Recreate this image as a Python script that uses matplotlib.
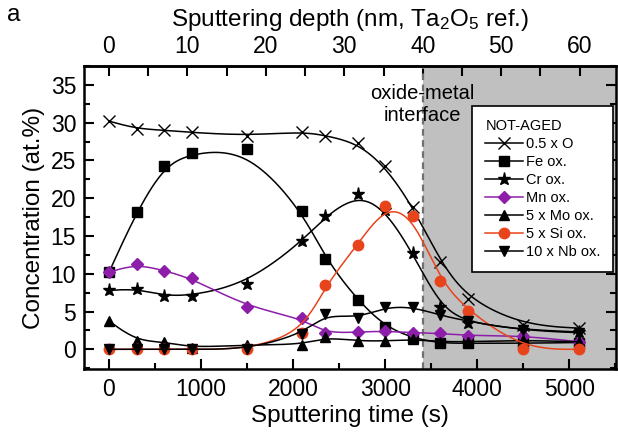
import numpy as np
import matplotlib
matplotlib.use("Agg")
import matplotlib.pyplot as plt
from matplotlib.ticker import MultipleLocator, FixedLocator

plt.rcParams['font.family'] = ['Liberation Sans', 'DejaVu Sans']
plt.rcParams['mathtext.default'] = 'regular'

# ---------------- data ----------------
time_s = [0, 300, 600, 900, 1500, 2100, 2350, 2700, 3000, 3300, 3600, 3900, 4500, 5100]
o_half = [30.2, 29.2, 29.0, 28.7, 28.3, 28.8, 28.3, 27.3, 24.2, 18.9, 11.6, 6.6, 3.2, 2.8]
fe_ox = [10.2, 18.2, 24.3, 26.0, 26.5, 18.3, 12.0, 6.5, 3.0, 1.5, 0.8, 0.8, 0.8, 0.9]
cr_ox = [7.8, 8.0, 7.1, 7.1, 8.7, 14.3, 17.6, 20.5, 18.5, 12.7, 5.6, 3.5, 2.6, 2.3]
mn_ox = [10.2, 11.3, 10.4, 9.4, 5.6, 4.1, 2.1, 2.3, 2.4, 2.2, 2.1, 1.8, 1.8, 1.0]
mo_ox5 = [3.75, 1.1, 1.0, 0.2, 0.6, 0.6, 1.6, 1.1, 1.1, 1.3, 1.0, 1.0, 1.2, 1.0]
si_ox5 = [0.0, 0.0, 0.0, 0.0, 0.0, 2.2, 8.5, 13.8, 19.0, 17.7, 9.0, 5.1, 0.0, 0.0]
nb_ox10 = [0.0, 0.0, 0.0, 0.0, 0.0, 2.0, 4.7, 4.1, 5.6, 5.6, 4.5, 3.7, 2.5, 2.2]

labels = ['0.5 x O', 'Fe ox.', 'Cr ox.', 'Mn ox.', '5 x Mo ox.', '5 x Si ox.', '10 x Nb ox.']
depth_ticks = [0, 10, 20, 30, 40, 50, 60]
SEC_PER_NM = 85.2          # Ta2O5 reference sputter rate (s per nm)
INTERFACE_NM = 40          # oxide / metal interface depth


def bspline(x, y, n=60):
    """Uniform cubic B-spline using data points as control points (clamped ends)."""
    P = np.column_stack([x, y]).astype(float)
    P = np.vstack([P[0], P[0], P, P[-1], P[-1]])
    t = np.linspace(0, 1, n)
    b0 = (1 - t) ** 3 / 6
    b1 = (3 * t ** 3 - 6 * t ** 2 + 4) / 6
    b2 = (-3 * t ** 3 + 3 * t ** 2 + 3 * t + 1) / 6
    b3 = t ** 3 / 6
    out = []
    for i in range(len(P) - 3):
        seg = (b0[:, None] * P[i] + b1[:, None] * P[i + 1] +
               b2[:, None] * P[i + 2] + b3[:, None] * P[i + 3])
        out.append(seg)
    out = np.vstack(out)
    return out[:, 0], out[:, 1]


fig = plt.figure(figsize=(6.18, 4.38), dpi=100)
ax = fig.add_axes([0.1367, 0.1568, 0.8596, 0.6925])

xlim = (-266, 5504)
ax.set_xlim(*xlim)
ax.set_ylim(-2.65, 37.5)

t_int = INTERFACE_NM * SEC_PER_NM
ax.axvspan(t_int, xlim[1], color='#c0c0c0', zorder=0, lw=0)
ax.axvline(t_int, color='#707070', ls=(0, (3, 2)), lw=1.6, zorder=1)

PURPLE = '#8c1eaa'
ORANGE = '#e8441c'
styles = [
    dict(color='black', marker='x', ms=8, mew=1.0, mfc='none'),
    dict(color='black', marker='s', ms=6.5),
    dict(color='black', marker='*', ms=9.5),
    dict(color=PURPLE, marker='D', ms=6.5),
    dict(color='black', marker='^', ms=7.5),
    dict(color=ORANGE, marker='o', ms=7.5),
    dict(color='black', marker='v', ms=7.5),
]
series = [o_half, fe_ox, cr_ox, mn_ox, mo_ox5, si_ox5, nb_ox10]

handles = []
for i, (vals, st, lab) in enumerate(zip(series, styles, labels)):
    xs, ys = bspline(time_s, vals)
    ax.plot(xs, ys, color=st['color'], lw=1.1, zorder=2 + i)
    ax.plot(time_s, vals, ls='none', zorder=2 + i, **st)
    h, = ax.plot([], [], lw=1.1, label=lab, **st)
    handles.append(h)

ax.text(t_int, 32.4, 'oxide-metal\ninterface', ha='center', va='center',
        fontsize=14.5, linespacing=1.15, zorder=20)

leg = ax.legend(handles=handles, title='NOT-AGED', loc='upper right',
                bbox_to_anchor=(0.995, 0.868), borderaxespad=0, fontsize=10.5,
                title_fontsize=10.5, frameon=True, fancybox=False, framealpha=1,
                edgecolor='black', handlelength=2.6, handletextpad=0.15,
                labelspacing=0.275, borderpad=0.9, numpoints=1)
leg.get_frame().set_linewidth(1.2)
leg._legend_box.align = 'left'
leg.set_zorder(30)

# axes styling
for sp in ax.spines.values():
    sp.set_linewidth(1.8)
ax.xaxis.set_major_locator(MultipleLocator(1000))
ax.xaxis.set_minor_locator(MultipleLocator(500))
ax.yaxis.set_major_locator(MultipleLocator(5))
ax.yaxis.set_minor_locator(MultipleLocator(2.5))
ax.tick_params(which='both', direction='in', top=False, right=True, width=1.5,
               labelsize=16.5, pad=6)
ax.tick_params(which='major', length=7)
ax.tick_params(which='minor', length=4)
ax.set_xlabel('Sputtering time (s)', fontsize=17.5, labelpad=3)
ax.set_ylabel('Concentration (at.%)', fontsize=17.5, labelpad=4)

sec = ax.secondary_xaxis('top', functions=(lambda t: t / SEC_PER_NM,
                                           lambda d: d * SEC_PER_NM))
sec.xaxis.set_major_locator(FixedLocator(depth_ticks))
sec.xaxis.set_minor_locator(FixedLocator([d + 5 for d in depth_ticks[:-1]]))
sec.tick_params(which='both', direction='in', width=1.5, labelsize=16.5, pad=6)
sec.tick_params(which='major', length=7)
sec.tick_params(which='minor', length=7)
sec.spines['top'].set_linewidth(1.8)
sec.set_xlabel('Sputtering depth (nm, Ta$_2$O$_5$ ref.)', fontsize=17.5, labelpad=6)

fig.text(0.012, 0.99, 'a', fontsize=17.5, va='top', ha='left')

fig.savefig('out.png', dpi=100)
